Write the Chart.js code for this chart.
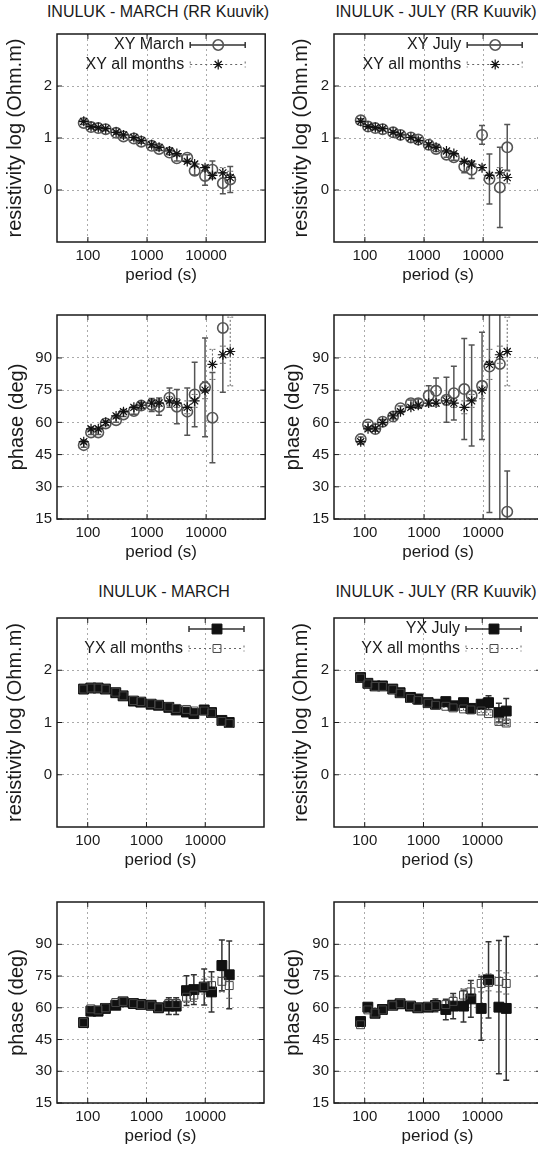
<!DOCTYPE html>
<html>
<head>
<meta charset="utf-8">
<script src="https://cdn.jsdelivr.net/npm/chart.js@4.4.1/dist/chart.umd.min.js"></script>
<style>
  body { margin: 0; background: #fff; width: 538px; height: 1151px; overflow: hidden; position: relative; }
  .ttl { position: absolute; font: 16px "Liberation Sans", Arial, sans-serif; line-height: 20px; color: #1a1a1a; white-space: nowrap; transform: translateX(-50%); }
  canvas { position: absolute; }
</style>
</head>
<body>
<div class="ttl" style="left:158px;top:2px">INULUK - MARCH (RR Kuuvik)</div>
<div class="ttl" style="left:436px;top:2px">INULUK - JULY (RR Kuuvik)</div>
<div class="ttl" style="left:164px;top:582px">INULUK - MARCH</div>
<div class="ttl" style="left:436px;top:582px">INULUK - JULY (RR Kuuvik)</div>

<canvas id="pA"></canvas>
<canvas id="pB"></canvas>
<canvas id="pC"></canvas>
<canvas id="pD"></canvas>
<canvas id="pE"></canvas>
<canvas id="pF"></canvas>
<canvas id="pG"></canvas>
<canvas id="pH"></canvas>

<script>
// periodos (s) comuns a todos os paineis
const periods = [85, 113, 150, 200, 300, 400, 600, 800, 1200, 1600, 2400, 3200, 4800, 6400, 9600, 12800, 19200, 25600];

// rotulos dos eixos
const periodTicks = [100, 1000, 10000];
const resTicks = [0, 1, 2];
const phaseTicks = [15, 30, 45, 60, 75, 90];

// XY resistividade (log)
const xyResMarch    = [1.29, 1.21, 1.19, 1.17, 1.10, 1.03, 0.99, 0.93, 0.85, 0.79, 0.72, 0.61, 0.62, 0.37, 0.27, 0.39, 0.13, 0.20];
const xyResMarchErr = [0.03, 0.03, 0.03, 0.03, 0.03, 0.03, 0.03, 0.03, 0.03, 0.03, 0.04, 0.05, 0.06, 0.08, 0.18, 0.17, 0.20, 0.25];
const xyResJuly     = [1.34, 1.22, 1.19, 1.17, 1.11, 1.06, 1.01, 0.97, 0.87, 0.79, 0.68, 0.63, 0.45, 0.39, 1.06, 0.21, 0.05, 0.82];
const xyResJulyErr  = [0.03, 0.03, 0.03, 0.03, 0.03, 0.03, 0.03, 0.03, 0.04, 0.05, 0.05, 0.06, 0.12, 0.17, 0.18, 0.48, 0.77, 0.44];
const xyResAll      = [1.32, 1.22, 1.20, 1.18, 1.11, 1.06, 1.01, 0.95, 0.87, 0.82, 0.75, 0.70, 0.55, 0.50, 0.43, 0.28, 0.33, 0.24];
const xyResAllErr   = [0.02, 0.02, 0.02, 0.02, 0.02, 0.02, 0.02, 0.02, 0.02, 0.02, 0.03, 0.03, 0.04, 0.04, 0.05, 0.06, 0.10, 0.12];

// XY fase (graus)
const xyPhaMarch    = [49.4, 55.3, 55.3, 59.5, 61.0, 63.7, 65.3, 67.8, 68.1, 67.3, 71.5, 67.3, 65.0, 73.0, 76.3, 62.2, 104, null];
const xyPhaMarchErr = [1, 1, 1, 1, 1, 1, 1.5, 1.5, 3, 4, 4.5, 8, 11, 15, 23, 21, 30, 0];
const xyPhaJuly     = [52.2, 59.0, 56.9, 60.3, 62.7, 66.6, 68.9, 68.9, 72.5, 74.7, 70.5, 73.6, 75.5, 72.5, 77.0, 86.0, 87.2, 18.4];
const xyPhaJulyErr  = [1, 1, 1, 1, 1, 1, 1.5, 2, 4.5, 6, 10.5, 12.5, 23.5, 23.5, 25, 68, 75, 19];
const xyPhaAll      = [51, 57, 57, 60, 63, 65, 67, 68, 69, 69, 70, 69, 67, 70, 75, 87, 91.5, 93];
const xyPhaAllErr   = [1, 1, 1, 1, 1, 1, 1, 1, 1.5, 1.5, 2, 2, 3, 3, 4, 7, 4, 16];

// YX resistividade (log)
const yxResMarch       = [1.64, 1.66, 1.66, 1.64, 1.57, 1.51, 1.41, 1.39, 1.35, 1.33, 1.29, 1.24, 1.20, 1.17, 1.24, 1.19, 1.04, 1.00];
const yxResMarchErr    = [0.02, 0.02, 0.02, 0.02, 0.02, 0.02, 0.02, 0.02, 0.02, 0.02, 0.02, 0.02, 0.03, 0.03, 0.03, 0.03, 0.05, 0.07];
const yxResAllMarch    = [1.64, 1.66, 1.66, 1.64, 1.58, 1.51, 1.42, 1.40, 1.36, 1.34, 1.30, 1.27, 1.25, 1.22, 1.22, 1.18, 1.02, 0.98];
const yxResAllMarchErr = [0.02, 0.02, 0.02, 0.02, 0.02, 0.02, 0.02, 0.02, 0.02, 0.02, 0.02, 0.02, 0.03, 0.03, 0.03, 0.03, 0.04, 0.05];
const yxResJuly        = [1.86, 1.75, 1.70, 1.70, 1.64, 1.57, 1.48, 1.45, 1.38, 1.35, 1.40, 1.32, 1.38, 1.27, 1.35, 1.38, 1.19, 1.22];
const yxResJulyErr     = [0.02, 0.02, 0.02, 0.02, 0.02, 0.02, 0.02, 0.02, 0.02, 0.02, 0.03, 0.03, 0.04, 0.04, 0.05, 0.13, 0.18, 0.24];
const yxResAllJuly     = [1.85, 1.74, 1.69, 1.69, 1.63, 1.56, 1.46, 1.42, 1.37, 1.33, 1.31, 1.28, 1.26, 1.24, 1.22, 1.17, 1.02, 0.99];
const yxResAllJulyErr  = [0.02, 0.02, 0.02, 0.02, 0.02, 0.02, 0.02, 0.02, 0.02, 0.02, 0.02, 0.02, 0.03, 0.03, 0.03, 0.03, 0.05, 0.05];

// YX fase (graus)
const yxPhaMarch       = [53.0, 58.4, 58.4, 59.7, 61.2, 62.8, 62.0, 61.6, 61.2, 60.0, 60.8, 60.8, 68.1, 68.6, 69.8, 67.5, 80.0, 75.6];
const yxPhaMarchErr    = [1, 1, 1, 1, 1, 1, 1, 1, 1.5, 2, 4, 4, 7, 7, 8.5, 9.5, 12, 16];
const yxPhaAllMarch    = [53, 59.5, 59, 60, 62.5, 63, 62, 61.5, 61, 60, 62, 62, 65, 66, 70, 70.5, 72.5, 70.5];
const yxPhaAllMarchErr = [1, 1, 1, 1, 1, 1, 1, 1, 1, 1.5, 2, 2, 2.5, 3, 3.5, 4, 5, 6];
const yxPhaJuly        = [53.5, 60.3, 57.4, 59.2, 61.2, 61.9, 60.8, 60.0, 60.3, 61.1, 59.2, 60.8, 60.8, 64.2, 59.7, 73.2, 60.3, 59.7];
const yxPhaJulyErr     = [1, 1, 1, 1, 1, 1, 1, 1, 1.5, 3, 4.8, 6, 7.5, 8.7, 15, 18, 31.5, 34];
const yxPhaAllJuly     = [52, 59, 57.5, 59, 61, 62, 61, 60, 60.5, 61, 61.5, 63, 66, 67.5, 71.5, 72, 72.5, 71.5];
const yxPhaAllJulyErr  = [1, 1, 1, 1, 1, 1, 1, 1, 1, 1.5, 2, 2.5, 3, 4, 4, 4, 5, 5];

const FONT = '"Liberation Sans", Arial, sans-serif';
const INK = '#1a1a1a';

// estilos dos marcadores (estilo gnuplot)
const styles = {
    circle: { pointStyle: 'circle', pointRadius: 5.2, pointBorderColor: '#555', pointBackgroundColor: 'rgba(0,0,0,0)', pointBorderWidth: 1.6, errColor: '#555', errWidth: 1.5, errDash: [] },
    star:   { pointStyle: 'star', pointRadius: 5, pointBorderColor: '#111', pointBackgroundColor: 'rgba(0,0,0,0)', pointBorderWidth: 1.2, errColor: '#666', errWidth: 1, errDash: [2, 2] },
    fsq:    { pointStyle: 'rect', pointRadius: 7, pointBorderColor: '#111', pointBackgroundColor: '#111', pointBorderWidth: 1, errColor: '#333', errWidth: 1.5, errDash: [] },
    hsq:    { pointStyle: 'rect', pointRadius: 5.6, pointBorderColor: '#444', pointBackgroundColor: 'rgba(0,0,0,0)', pointBorderWidth: 1, errColor: '#555', errWidth: 1, errDash: [2, 2] }
};

function drawMark(ctx, st, x, y) {
    const r = st.pointRadius;
    ctx.save();
    ctx.setLineDash([]);
    ctx.lineWidth = st.pointBorderWidth;
    ctx.strokeStyle = st.pointBorderColor;
    ctx.fillStyle = st.pointBackgroundColor;
    ctx.beginPath();
    if (st.pointStyle === 'circle') {
        ctx.arc(x, y, r, 0, Math.PI * 2);
    } else if (st.pointStyle === 'rect') {
        const s = r * Math.SQRT1_2;
        ctx.rect(x - s, y - s, 2 * s, 2 * s);
    } else {
        for (let k = 0; k < 4; k++) {
            const a = k * Math.PI / 4;
            ctx.moveTo(x + Math.cos(a) * r, y + Math.sin(a) * r);
            ctx.lineTo(x - Math.cos(a) * r, y - Math.sin(a) * r);
        }
    }
    ctx.fill();
    ctx.stroke();
    ctx.restore();
}

// barras de erro, moldura, tiques internos e legenda
const gnuplotLook = {
    id: 'gnuplotLook',
    beforeDatasetsDraw(chart) {
        const ctx = chart.ctx, xs = chart.scales.x, ys = chart.scales.y, a = chart.chartArea;
        ctx.save();
        ctx.beginPath();
        ctx.rect(a.left, a.top, a.right - a.left, a.bottom - a.top);
        ctx.clip();
        chart.data.datasets.forEach(ds => {
            ctx.strokeStyle = ds.errColor;
            ctx.lineWidth = ds.errWidth;
            ctx.setLineDash(ds.errDash);
            ds.data.forEach(pt => {
                if (!pt.e) return;
                const x = xs.getPixelForValue(pt.x);
                const y1 = ys.getPixelForValue(pt.y - pt.e);
                const y2 = ys.getPixelForValue(pt.y + pt.e);
                ctx.beginPath();
                ctx.moveTo(x, y1); ctx.lineTo(x, y2);
                ctx.moveTo(x - 3, y1); ctx.lineTo(x + 3, y1);
                ctx.moveTo(x - 3, y2); ctx.lineTo(x + 3, y2);
                ctx.stroke();
            });
        });
        ctx.restore();
    },
    afterDraw(chart) {
        const ctx = chart.ctx, xs = chart.scales.x, ys = chart.scales.y, a = chart.chartArea;
        ctx.save();
        ctx.strokeStyle = INK;
        ctx.lineWidth = 1;
        ctx.beginPath();
        xs.ticks.forEach(t => {
            const x = xs.getPixelForValue(t.value);
            ctx.moveTo(x, a.bottom); ctx.lineTo(x, a.bottom - 5);
            ctx.moveTo(x, a.top); ctx.lineTo(x, a.top + 5);
        });
        ys.ticks.forEach(t => {
            const y = ys.getPixelForValue(t.value);
            ctx.moveTo(a.left, y); ctx.lineTo(a.left + 5, y);
            ctx.moveTo(a.right, y); ctx.lineTo(a.right - 5, y);
        });
        ctx.stroke();
        ctx.lineWidth = 1.5;
        ctx.strokeRect(a.left, a.top, a.right - a.left, a.bottom - a.top);

        const key = chart.options.plugins.gnuplotLook.key || [];
        ctx.font = '16px ' + FONT;
        ctx.fillStyle = INK;
        ctx.textAlign = 'right';
        ctx.textBaseline = 'middle';
        key.forEach((k, i) => {
            const y = a.top + 11 + i * 19.5;
            const st = styles[k.style];
            ctx.fillText(k.text, a.right - 81, y);
            ctx.save();
            ctx.strokeStyle = k.solid ? '#333' : '#666';
            ctx.lineWidth = k.solid ? 1.5 : 1;
            ctx.setLineDash(k.solid ? [] : [2, 3]);
            const x1 = a.right - 75, x2 = a.right - 20;
            ctx.beginPath();
            ctx.moveTo(x1, y); ctx.lineTo(x2, y);
            ctx.moveTo(x1, y - 3); ctx.lineTo(x1, y + 3);
            ctx.moveTo(x2, y - 3); ctx.lineTo(x2, y + 3);
            ctx.stroke();
            ctx.restore();
            drawMark(ctx, st, a.right - 47, y);
        });
        ctx.restore();
    }
};

function series(vals, errs, style, order) {
    const pts = [];
    periods.forEach((p, i) => {
        if (vals[i] !== null) pts.push({ x: p, y: vals[i], e: errs[i] });
    });
    return Object.assign({ data: pts, showLine: false, order: order, pointHoverRadius: 0 }, styles[style]);
}

function makePanel(id, p) {
    const cv = document.getElementById(id);
    const W = 272, H = p.areaBottom - p.canvasTop + 50;
    cv.width = W; cv.height = H;
    cv.style.left = p.left + 'px';
    cv.style.top = p.canvasTop + 'px';
    const isRes = p.kind === 'res';
    const yt = isRes ? resTicks : phaseTicks;
    return new Chart(cv.getContext('2d'), {
        type: 'scatter',
        data: { datasets: p.sets },
        options: {
            responsive: false,
            animation: false,
            events: [],
            layout: { padding: { top: p.areaTop - p.canvasTop, right: 6, left: 0, bottom: 0 } },
            plugins: {
                legend: { display: false },
                tooltip: { enabled: false },
                gnuplotLook: { key: p.key }
            },
            scales: {
                x: {
                    type: 'logarithmic',
                    min: 30,
                    max: 100000,
                    afterBuildTicks: s => { s.ticks = periodTicks.map(v => ({ value: v })); },
                    afterFit: s => { s.height = 50; },
                    ticks: { autoSkip: false, maxRotation: 0, padding: 5, color: INK, font: { family: FONT, size: 15 }, callback: v => String(v) },
                    grid: { color: '#aaa', lineWidth: 1, drawTicks: false },
                    border: { display: false, dash: [2, 3] },
                    title: { display: true, text: 'period (s)', color: INK, font: { family: FONT, size: 17 }, padding: { top: 0, bottom: 6 } }
                },
                y: {
                    min: isRes ? -1 : 15,
                    max: isRes ? 3 : 110,
                    afterBuildTicks: s => { s.ticks = yt.map(v => ({ value: v })); },
                    afterFit: s => { s.width = 57; },
                    ticks: { padding: 5, color: INK, font: { family: FONT, size: 15 }, callback: v => String(v) },
                    grid: { color: '#aaa', lineWidth: 1, drawTicks: false },
                    border: { display: false, dash: [2, 3] },
                    title: { display: true, text: isRes ? 'resistivity log (Ohm.m)' : 'phase (deg)', color: INK, font: { family: FONT, size: 20, lineHeight: 1 }, padding: { top: p.titlePad, bottom: 0 } }
                }
            }
        },
        plugins: [gnuplotLook]
    });
}

const rowA = { canvasTop: 20, areaTop: 33, areaBottom: 242 };
const rowB = { canvasTop: 300, areaTop: 315, areaBottom: 519 };
const rowC = { canvasTop: 604, areaTop: 617, areaBottom: 827 };
const rowD = { canvasTop: 888, areaTop: 900, areaBottom: 1103 };

makePanel('pA', Object.assign({ left: 0, kind: 'res', titlePad: 5,
    sets: [series(xyResMarch, xyResMarchErr, 'circle', 1), series(xyResAll, xyResAllErr, 'star', 0)],
    key: [{ text: 'XY March', style: 'circle', solid: true }, { text: 'XY all months', style: 'star', solid: false }] }, rowA));

makePanel('pB', Object.assign({ left: 277, kind: 'res', titlePad: 14,
    sets: [series(xyResJuly, xyResJulyErr, 'circle', 1), series(xyResAll, xyResAllErr, 'star', 0)],
    key: [{ text: 'XY July', style: 'circle', solid: true }, { text: 'XY all months', style: 'star', solid: false }] }, rowA));

makePanel('pC', Object.assign({ left: 0, kind: 'phase', titlePad: 7,
    sets: [series(xyPhaMarch, xyPhaMarchErr, 'circle', 1), series(xyPhaAll, xyPhaAllErr, 'star', 0)] }, rowB));

makePanel('pD', Object.assign({ left: 277, kind: 'phase', titlePad: 6,
    sets: [series(xyPhaJuly, xyPhaJulyErr, 'circle', 1), series(xyPhaAll, xyPhaAllErr, 'star', 0)] }, rowB));

makePanel('pE', Object.assign({ left: 0, kind: 'res', titlePad: 5,
    sets: [series(yxResMarch, yxResMarchErr, 'fsq', 1), series(yxResAllMarch, yxResAllMarchErr, 'hsq', 0)],
    key: [{ text: '', style: 'fsq', solid: true }, { text: 'YX all months', style: 'hsq', solid: false }] }, rowC));

makePanel('pF', Object.assign({ left: 277, kind: 'res', titlePad: 14,
    sets: [series(yxResJuly, yxResJulyErr, 'fsq', 1), series(yxResAllJuly, yxResAllJulyErr, 'hsq', 0)],
    key: [{ text: 'YX July', style: 'fsq', solid: true }, { text: 'YX all months', style: 'hsq', solid: false }] }, rowC));

makePanel('pG', Object.assign({ left: 0, kind: 'phase', titlePad: 7,
    sets: [series(yxPhaMarch, yxPhaMarchErr, 'fsq', 1), series(yxPhaAllMarch, yxPhaAllMarchErr, 'hsq', 0)] }, rowD));

makePanel('pH', Object.assign({ left: 277, kind: 'phase', titlePad: 6,
    sets: [series(yxPhaJuly, yxPhaJulyErr, 'fsq', 1), series(yxPhaAllJuly, yxPhaAllJulyErr, 'hsq', 0)] }, rowD));
</script>
</body>
</html>
